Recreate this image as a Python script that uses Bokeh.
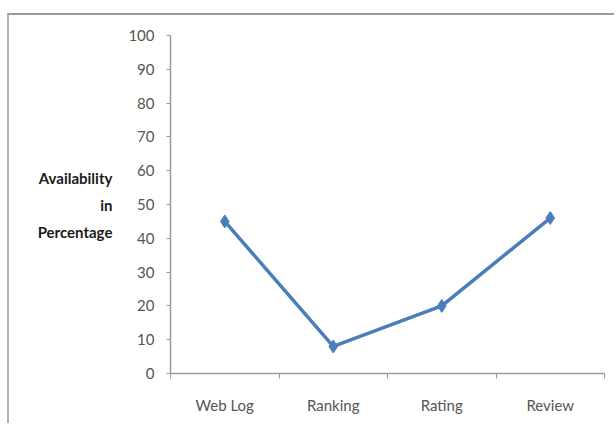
from bokeh.plotting import figure
from bokeh.models import Range1d, FixedTicker
from bokeh.embed import file_html
from bokeh.resources import INLINE

categories = ["Web Log", "Ranking", "Rating", "Review"]
availability = [45, 8, 20, 46]
y_ticks = list(range(0, 101, 10))
y_title = "Availability\nin\nPercentage"

LINE_COLOR = "#4a7ebb"
AXIS_COLOR = "#9a9a9a"
TEXT_COLOR = "#555555"
FONT = "Lato"

n = len(categories)
# category slots: each category occupies one unit, centred at its midpoint
x_pos = [i + 0.5 for i in range(n)]

p = figure(x_range=Range1d(0, n), y_range=Range1d(0, 100),
           frame_width=434, frame_height=338,
           min_border_left=161, min_border_top=20, min_border_right=10, min_border_bottom=50,
           output_backend="svg", toolbar_location=None)
p.styles = {"margin-top": "13px", "margin-left": "7px",
            "border-top": "2px solid #9a9a9a", "border-left": "2px solid #b4b4b4"}
p.outline_line_color = None
p.xgrid.visible = False
p.ygrid.visible = False
p.background_fill_color = "white"
p.border_fill_color = "white"

xa = p.xaxis[0]
xa.ticker = FixedTicker(ticks=x_pos, minor_ticks=list(range(n + 1)))
xa.major_label_overrides = {m: c for m, c in zip(x_pos, categories)}
xa.major_tick_line_color = None
xa.minor_tick_line_color = AXIS_COLOR
xa.minor_tick_out = 5
xa.minor_tick_in = 0
xa.axis_line_color = AXIS_COLOR
xa.axis_line_width = 1.5
xa.major_label_text_font = FONT
xa.major_label_text_font_size = "15px"
xa.major_label_text_color = TEXT_COLOR
xa.major_label_standoff = 16

ya = p.yaxis[0]
ya.ticker = FixedTicker(ticks=y_ticks)
ya.axis_line_color = AXIS_COLOR
ya.axis_line_width = 1.5
ya.major_tick_line_color = AXIS_COLOR
ya.major_tick_out = 4
ya.major_tick_in = 0
ya.minor_tick_line_color = None
ya.major_label_text_font = FONT
ya.major_label_text_font_size = "15px"
ya.major_label_text_color = TEXT_COLOR
ya.major_label_standoff = 12
ya.axis_label = y_title
ya.axis_label_orientation = "horizontal"
ya.axis_label_text_font = FONT
ya.axis_label_text_font_style = "bold"
ya.axis_label_text_font_size = "15px"
ya.axis_label_text_color = "#1a1a1a"
ya.axis_label_text_line_height = 1.5
ya.axis_label_standoff = 13

p.line(x_pos, availability, line_width=3.5, line_color=LINE_COLOR)
p.scatter(x_pos, availability, marker="diamond", size=13,
          fill_color=LINE_COLOR, line_color=LINE_COLOR)

open("out.html", "w").write(file_html(p, INLINE))
